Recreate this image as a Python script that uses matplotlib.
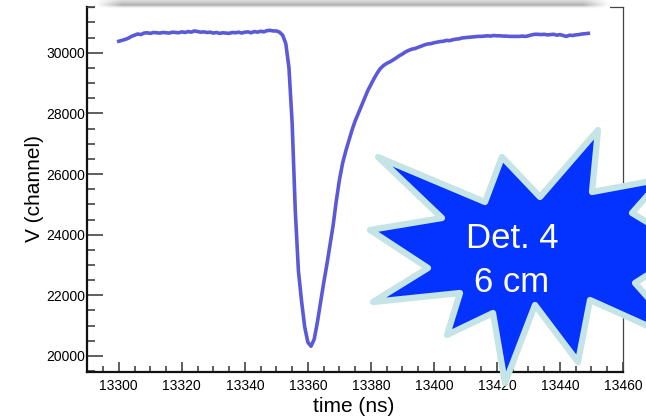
import numpy as np
import matplotlib
matplotlib.use("Agg")
import matplotlib.pyplot as plt
from matplotlib.patches import Polygon
from matplotlib.ticker import MultipleLocator

plt.rcParams['font.family'] = ['Liberation Sans', 'DejaVu Sans']

# ---- data ----
time_ns = list(range(13300, 13450))
v_channel = [
    30380, 30410, 30440, 30480, 30540, 30580, 30620, 30600, 30650, 30660,
    30640, 30670, 30660, 30650, 30670, 30660, 30650, 30680, 30670, 30660,
    30690, 30670, 30700, 30680, 30720, 30700, 30680, 30690, 30670, 30680,
    30650, 30670, 30640, 30660, 30650, 30640, 30670, 30660, 30680, 30650,
    30680, 30690, 30660, 30700, 30680, 30710, 30690, 30730, 30740, 30720,
    30720, 30680, 30580, 30300, 29500, 27700, 24800, 22800, 21800, 20950,
    20450, 20320, 20550, 21100, 21750, 22400, 23000, 23650, 24300, 25100,
    25800, 26350, 26750, 27100, 27450, 27750, 28000, 28250, 28500, 28750,
    28950, 29150, 29330, 29480, 29580, 29650, 29700, 29760, 29830, 29900,
    29960, 30030, 30080, 30120, 30140, 30180, 30220, 30260, 30290, 30300,
    30330, 30350, 30370, 30380, 30410, 30400, 30430, 30450, 30460, 30490,
    30500, 30510, 30520, 30530, 30540, 30540, 30550, 30560, 30550, 30570,
    30560, 30560, 30550, 30550, 30540, 30540, 30540, 30540, 30550, 30540,
    30560, 30590, 30610, 30610, 30600, 30610, 30590, 30600, 30610, 30580,
    30600, 30570, 30540, 30580, 30570, 30590, 30600, 30620, 30630, 30640,
]
x_ticks = list(range(13300, 13461, 20))
y_ticks = list(range(20000, 30001, 2000))
label_lines = ["Det. 4", "6 cm"]

W, H = 646, 418
fig = plt.figure(figsize=(W / 100, H / 100), dpi=100)
fig.patch.set_facecolor('white')

def fx(px):
    return px / W

def fy(py):
    return 1 - py / H

ax = fig.add_axes([fx(87.3), fy(371.7), fx(623) - fx(87.3), fy(6.7) - fy(371.7)])
ax.plot(time_ns, v_channel, color='#5A5AD8', lw=2.6, solid_joinstyle='round', zorder=3)
ax.set_xlim(13290, 13460)
ax.set_ylim(19480, 31520)

ax.set_xticks(x_ticks)
ax.set_yticks(y_ticks)
ax.xaxis.set_minor_locator(MultipleLocator(5))
ax.yaxis.set_minor_locator(MultipleLocator(500))
ax.tick_params(axis='y', which='major', direction='in', length=11.5, width=1.1,
               color='#333333', labelsize=10, pad=1.5)
ax.tick_params(axis='y', which='minor', direction='in', length=5.8, width=1.1, color='#333333')
ax.tick_params(axis='x', which='major', direction='in', length=7.2, width=1.1,
               color='#333333', labelsize=10, pad=5)
ax.tick_params(axis='x', which='minor', direction='in', length=4.3, width=1.1, color='#333333')

for s in ['left', 'bottom']:
    ax.spines[s].set_linewidth(1.6)
    ax.spines[s].set_color('#111111')
for s in ['top', 'right']:
    ax.spines[s].set_linewidth(0.9)
    ax.spines[s].set_color('#444444')

fig.text(fx(34), fy(189), "V (channel)", rotation=90, ha='center', va='center', fontsize=15)
fig.text(fx(354), fy(406), "time (ns)", ha='center', va='center', fontsize=15)

# ---- top shadow band ----
sh = fig.add_axes([fx(95), fy(9), fx(610) - fx(95), fy(0) - fy(9)])
ny, nx = 18, 200
prof_y = np.interp(np.linspace(0, 1, ny), [0, 0.25, 0.55, 0.8, 1.0], [0.86, 0.80, 0.68, 0.92, 1.0])
prof_x = np.interp(np.linspace(0, 1, nx), [0, 0.05, 0.95, 1.0], [0.0, 1.0, 1.0, 0.0])
img = 1 - np.outer(1 - prof_y, prof_x)
sh.imshow(img, cmap='gray', vmin=0, vmax=1, aspect='auto', interpolation='bilinear')
sh.axis('off')

# ---- starburst annotation (figure pixel coordinates) ----
star_px = [
    (378, 157), (485, 202), (502, 157), (540, 197), (598, 130), (592, 192),
    (662, 179), (632, 213), (690, 248), (635, 283), (690, 345), (590, 300),
    (578, 362), (535, 305), (505, 383), (493, 313), (447, 335), (460, 293),
    (373, 302), (428, 268), (370, 230), (442, 218),
]
star_pts = [(fx(x), fy(y)) for x, y in star_px]
star = Polygon(star_pts, closed=True, transform=fig.transFigure,
               facecolor='#0433FF', edgecolor='#C4E4E6', linewidth=4.5,
               joinstyle='round', clip_on=False, zorder=10)
fig.add_artist(star)
fig.text(fx(512), fy(238), label_lines[0], color='white', fontsize=25,
         ha='center', va='center', zorder=11)
fig.text(fx(512), fy(282), label_lines[1], color='white', fontsize=25,
         ha='center', va='center', zorder=11)

fig.savefig('out.png', dpi=100)
